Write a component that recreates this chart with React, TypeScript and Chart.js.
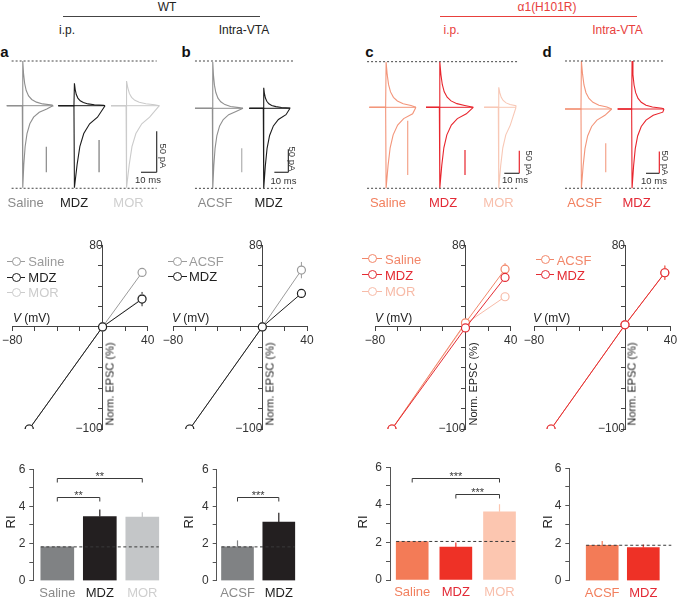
import React, { useEffect, useRef } from 'react';
import { Chart, registerables } from 'chart.js';
Chart.register(...registerables);

const FONT = '"Liberation Sans", Arial, Helvetica, sans-serif';
Chart.defaults.font.family = FONT;

// ================= DATA =================
// EPSC waveform template: time after stimulus (ms), fraction of peak
const shapeT = [0, 0.3, 0.8, 1.5, 2.5, 4, 6, 9, 13, 19, 26];
const shapeF = [0, 1, 0.72, 0.5, 0.34, 0.22, 0.14, 0.08, 0.04, 0.015, 0];
const scaleMs = 10;
const scalePA = 50;

// panel a traces (WT, i.p.)
const aNames = ['Saline', 'MDZ', 'MOR'];
const aStart = [4.3, 37.1, 70.7];
const aStim = [14.2, 47.1, 80.3];
const aEnd = [33.6, 66.9, 101.5];
const aUp = [54.5, 27.3, 30];
const aDown = [-100, -100, -100];
const aUpTau = [1, 1, 1.4];
const aDownTau = [1.2, 2.5, 2.5];
const aRef = [54.5, -100.7];
const aRefX = [7.4, 99.8];
const aBarX = [29.5, 63.1];
const aBarFrom = [-50, -41.8];
const aBarTo = [-81.2, -81.2];
const aScale = [99.8, -81.2];

// panel b traces (WT, intra-VTA)
const bNames = ['ACSF', 'MDZ'];
const bStart = [10.7, 49.5];
const bStim = [23.1, 59.5];
const bEnd = [45, 78.6];
const bUp = [100.7, 44.8];
const bDown = [-174, -174];
const bUpTau = [1, 1];
const bDownTau = [1.3, 1.8];
const bRef = [102.8, -174];
const bRefX = [10.7, 80.7];
const bBarX = [44.1];
const bBarFrom = [-87];
const bBarTo = [-139];
const bScale = [77.4, -139.1];

// panel c traces (a1(H101R), i.p.)
const cNames = ['Saline', 'MDZ', 'MOR'];
const cStart = [6.2, 44, 82.7];
const cStim = [17.1, 52.9, 92.2];
const cEnd = [37.3, 75.5, 104];
const cUp = [100, 100.7, 44.2];
const cDown = [-178.8, -178.8, -178.8];
const cUpTau = [1.3, 1.3, 1.3];
const cDownTau = [2, 2, 2];
const cRef = [100.7, -178.8];
const cRefX = [4.7, 105.3];
const cBarX = [31.8, 70];
const cBarFrom = [-29.6, -94.3];
const cBarTo = [-149.4, -149.4];
const cScale = [106.2, -145.7];

// panel d traces (a1(H101R), intra-VTA)
const dNames = ['ACSF', 'MDZ'];
const dStart = [11.3, 50.9];
const dStim = [23.3, 61.4];
const dEnd = [46.4, 85.7];
const dUp = [110.6, 110.6];
const dDown = [-182.7, -182.7];
const dUpTau = [1.5, 1.2];
const dDownTau = [2, 1.8];
const dRef = [110.6, -182.7];
const dRefX = [11.3, 86.5];
const dBarX = [41.9];
const dBarFrom = [-79];
const dBarTo = [-145.9];
const dScale = [82.2, -148.2];

// I-V curves: holding potentials (mV) and normalized EPSC (%)
const ivVoltage = [-65, 0, 35];
const ivANames = ['Saline', 'MDZ', 'MOR'];
const ivAValues = [[-100, 0, 53.3], [-100, 0, 27.2], [-100, 0, 28]];
const ivAErrors = [[0, 0, 2], [0, 0, 7], [0, 0, 4]];
const ivBNames = ['ACSF', 'MDZ'];
const ivBValues = [[-100, 0, 55.6], [-100, 0, 32.8]];
const ivBErrors = [[0, 0, 8], [0, 0, 3]];
const ivCNames = ['Saline', 'MDZ', 'MOR'];
const ivCValues = [[-100, 4, 56.5], [-100, -1, 48.4], [-100, 3, 29.5]];
const ivCErrors = [[0, 0, 6], [0, 0, 3], [0, 0, 3]];
const ivDNames = ['ACSF', 'MDZ'];
const ivDValues = [[-100, 2, 53], [-100, 2, 53]];
const ivDErrors = [[0, 0, 7], [0, 0, 7]];
const ivXTicks = [-80, 40];
const ivYTicks = [80, -100];

// rectification index bars
const barANames = ['Saline', 'MDZ', 'MOR'];
const barAValues = [1.82, 3.45, 3.42];
const barAErrors = [0.05, 0.38, 0.26];
const barABrackets = [[0, 1, 4.52, '**'], [0, 2, 5.52, '**']];
const barBNames = ['ACSF', 'MDZ'];
const barBValues = [1.82, 3.15];
const barBErrors = [0.35, 0.5];
const barBBrackets = [[0, 1, 4.52, '***']];
const barCNames = ['Saline', 'MDZ', 'MOR'];
const barCValues = [2.05, 1.75, 3.63];
const barCErrors = [0.03, 0.25, 0.4];
const barCBrackets = [[0, 2, 5.44, '***'], [1, 2, 4.56, '***']];
const barDNames = ['ACSF', 'MDZ'];
const barDValues = [1.89, 1.77];
const barDErrors = [0.23, 0.16];
const barDBrackets: any[] = [];

// ================= STYLE =================
const GREY = ['#8f8f8f', '#1c1c1c', '#cbcbcb'];
const REDS = ['#f3957a', '#e8252d', '#f8c8b6'];
const IV_GREY = ['#9b9b9b', '#1f1f1f', '#cccccc'];
const IV_REDS = ['#f2876a', '#e42b33', '#f7bba8'];
const BAR_GREY = ['#808284', '#231f20', '#c4c6c8'];
const BAR_REDS = ['#f37b57', '#ee3126', '#fcc6b0'];
const LBL_GREY = ['#8a8a8a', '#1f1f1f', '#cfcfcf'];
const LBL_REDS = ['#f2805f', '#e32a36', '#f8bfac'];
const HEAD_RED = '#e8403c';
const IV_ORDER = [1, 0, 2]; // dataset index 0 is drawn uppermost: MDZ, then control, then MOR

function sweep(start: number, stim: number, end: number, amp: number, tau: number) {
  const pts = [{ x: start, y: 0 }, { x: stim, y: 0 }];
  for (let i = 1; i < shapeT.length; i++) {
    const x = stim + (i === 1 ? shapeT[1] : shapeT[i] * tau);
    if (x >= end) break;
    pts.push({ x, y: amp * shapeF[i] });
  }
  pts.push({ x: end, y: 0 });
  return pts;
}

const TRACE_PANELS = [
  { names: aNames, start: aStart, stim: aStim, end: aEnd, up: aUp, down: aDown, upTau: aUpTau, downTau: aDownTau, ref: aRef, refX: aRefX, barX: aBarX, barFrom: aBarFrom, barTo: aBarTo, scale: aScale,
    colors: GREY, barColors: ['#8a8a8a', '#7a7a7a'], scaleColor: '#333', box: { left: 0, top: 55, w: 170, h: 140, pxMs: 1.57, pxPA: 0.82, baseY: 105.7 } },
  { names: bNames, start: bStart, stim: bStim, end: bEnd, up: bUp, down: bDown, upTau: bUpTau, downTau: bDownTau, ref: bRef, refX: bRefX, barX: bBarX, barFrom: bBarFrom, barTo: bBarTo, scale: bScale,
    colors: GREY, barColors: ['#b0b0b0'], scaleColor: '#333', box: { left: 180, top: 55, w: 130, h: 140, pxMs: 1.4, pxPA: 0.46, baseY: 108.3 } },
  { names: cNames, start: cStart, stim: cStim, end: cEnd, up: cUp, down: cDown, upTau: cUpTau, downTau: cDownTau, ref: cRef, refX: cRefX, barX: cBarX, barFrom: cBarFrom, barTo: cBarTo, scale: cScale,
    colors: REDS, barColors: ['#f4a48b', '#e8252d'], scaleColor: '#e8252d', box: { left: 360, top: 55, w: 170, h: 140, pxMs: 1.5, pxPA: 0.453, baseY: 107.3 } },
  { names: dNames, start: dStart, stim: dStim, end: dEnd, up: dUp, down: dDown, upTau: dUpTau, downTau: dDownTau, ref: dRef, refX: dRefX, barX: dBarX, barFrom: dBarFrom, barTo: dBarTo, scale: dScale,
    colors: REDS, barColors: ['#f4a48b'], scaleColor: '#e8252d', box: { left: 550, top: 55, w: 135, h: 140, pxMs: 1.33, pxPA: 0.434, baseY: 109 } },
];

const IV_PANELS = [
  { names: ivANames, values: ivAValues, errors: ivAErrors, colors: IV_GREY, area: { L: 12.3, R: 147.7, T: 245, B: 429 } },
  { names: ivBNames, values: ivBValues, errors: ivBErrors, colors: IV_GREY, area: { L: 173, R: 307, T: 245, B: 429 } },
  { names: ivCNames, values: ivCValues, errors: ivCErrors, colors: IV_REDS, area: { L: 375, R: 510.7, T: 245, B: 429 } },
  { names: ivDNames, values: ivDValues, errors: ivDErrors, colors: IV_REDS, area: { L: 534, R: 670.5, T: 245, B: 429 } },
];

const BAR_PANELS = [
  { names: barANames, values: barAValues, errors: barAErrors, brackets: barABrackets, colors: BAR_GREY, labelColors: LBL_GREY, extend: 0,
    lay: { axisX: 33.3, y6: 468.3, y0: 580.7, c0: 57.3, sp: 42.5, right: 178, bw: 33 } },
  { names: barBNames, values: barBValues, errors: barBErrors, brackets: barBBrackets, colors: BAR_GREY, labelColors: LBL_GREY, extend: 0,
    lay: { axisX: 216.7, y6: 468.3, y0: 580.7, c0: 237.5, sp: 41.3, right: 312, bw: 32 } },
  { names: barCNames, values: barCValues, errors: barCErrors, brackets: barCBrackets, colors: BAR_REDS, labelColors: LBL_REDS, extend: 0,
    lay: { axisX: 390, y6: 466, y0: 580, c0: 412.2, sp: 43.65, right: 530, bw: 32 } },
  { names: barDNames, values: barDValues, errors: barDErrors, brackets: barDBrackets, colors: BAR_REDS, labelColors: LBL_REDS, extend: 12,
    lay: { axisX: 569.3, y6: 467.3, y0: 580.7, c0: 602.2, sp: 41.1, right: 684, bw: 32 } },
];

// integer canvas box around a (possibly fractional) plot rectangle, with the remainder as padding
function snapBox(L: number, R: number, T: number, B: number, mL: number, mR: number, mT: number, mB: number) {
  const left = Math.floor(L - mL);
  const top = Math.floor(T - mT);
  const right = Math.ceil(R + mR);
  const bottom = Math.ceil(B + mB);
  return {
    left, top, w: right - left, h: bottom - top,
    pad: { left: L - left, right: right - R, top: T - top, bottom: bottom - B },
  };
}

// ================= CHARTS =================
function TraceChart({ p }: any) {
  const ref = useRef<HTMLCanvasElement>(null);
  const b = p.box;
  useEffect(() => {
    const datasets: any[] = [];
    p.ref.forEach((lv: number) => datasets.push({ data: [{ x: p.refX[0], y: lv }, { x: p.refX[1], y: lv }], borderColor: '#444', borderWidth: 1, borderDash: [2, 2] }));
    p.names.forEach((_n: string, i: number) => {
      const col = p.colors[i];
      datasets.push({ data: [{ x: p.start[i], y: 0 }, { x: p.end[i], y: 0 }], borderColor: col, borderWidth: 1 });
      datasets.push({ data: sweep(p.start[i], p.stim[i], p.end[i], p.up[i], p.upTau[i]), borderColor: col, borderWidth: 1.1 });
      datasets.push({ data: sweep(p.start[i], p.stim[i], p.end[i], p.down[i], p.downTau[i]), borderColor: col, borderWidth: 1.1 });
    });
    p.barX.forEach((x: number, i: number) => datasets.push({ data: [{ x, y: p.barFrom[i] }, { x, y: p.barTo[i] }], borderColor: p.barColors[i], borderWidth: 1.2 }));
    datasets.push({ data: [{ x: p.scale[0] - scaleMs, y: p.scale[1] }, { x: p.scale[0], y: p.scale[1] }], borderColor: '#333', borderWidth: 1.2 });
    datasets.push({ data: [{ x: p.scale[0], y: p.scale[1] }, { x: p.scale[0], y: p.scale[1] + scalePA }], borderColor: p.scaleColor, borderWidth: 1.2 });
    const chart = new Chart(ref.current!, {
      type: 'line',
      data: { datasets },
      options: {
        animation: false, responsive: false, maintainAspectRatio: false,
        layout: { padding: 0 },
        plugins: { legend: { display: false }, tooltip: { enabled: false } },
        elements: { point: { radius: 0 }, line: { tension: 0 } },
        scales: {
          x: { type: 'linear', display: false, min: 0, max: b.w / b.pxMs },
          y: { type: 'linear', display: false, min: -(b.top + b.h - b.baseY) / b.pxPA, max: (b.baseY - b.top) / b.pxPA },
        },
      } as any,
    });
    return () => chart.destroy();
  }, []);
  return <canvas ref={ref} width={b.w} height={b.h} style={{ position: 'absolute', left: b.left, top: b.top, width: b.w, height: b.h }} />;
}

const ivErrPlugin = {
  id: 'ivErr',
  beforeDatasetsDraw(chart: any) {
    const { ctx, scales: { x, y } } = chart;
    chart.data.datasets.forEach((ds: any) => {
      ds.errors.forEach((e: number, j: number) => {
        if (!e) return;
        const px = x.getPixelForValue(ds.data[j].x);
        ctx.save();
        ctx.strokeStyle = ds.borderColor;
        ctx.lineWidth = 1;
        ctx.beginPath();
        ctx.moveTo(px, y.getPixelForValue(ds.data[j].y + e));
        ctx.lineTo(px, y.getPixelForValue(ds.data[j].y - e));
        ctx.stroke();
        ctx.restore();
      });
    });
  },
};

function IVChart({ p }: any) {
  const ref = useRef<HTMLCanvasElement>(null);
  const a = p.area;
  const box = snapBox(a.L, a.R, a.T, a.B, 15, 15, 10, 15);
  useEffect(() => {
    const idx = IV_ORDER.filter((k) => k < p.names.length);
    const datasets = idx.map((i: number) => ({
      label: p.names[i],
      data: ivVoltage.map((v, j) => ({ x: v, y: p.values[i][j] })),
      errors: p.errors[i],
      borderColor: p.colors[i],
      borderWidth: 1,
      pointRadius: 4,
      pointBorderWidth: 1.2,
      pointBackgroundColor: '#fff',
      pointBorderColor: p.colors[i],
    }));
    const axisGrid = { drawOnChartArea: false, drawTicks: true, tickLength: 4, color: '#444', lineWidth: 1 };
    const axisBorder = { display: true, color: '#444', width: 1 };
    const chart = new Chart(ref.current!, {
      type: 'line',
      data: { datasets },
      options: {
        animation: false, responsive: false, maintainAspectRatio: false,
        layout: { padding: box.pad },
        plugins: { legend: { display: false }, tooltip: { enabled: false } },
        elements: { line: { tension: 0 } },
        scales: {
          x: {
            type: 'linear', min: -80, max: 40, position: { y: 0 },
            ticks: { stepSize: 20, autoSkip: false, maxRotation: 0, padding: 3, color: '#333', font: { size: 12 },
              callback: (v: any) => (ivXTicks.includes(Math.round(v)) ? String(Math.round(v)).replace('-', '\u2212') : '') },
            grid: axisGrid, border: axisBorder,
          },
          y: {
            type: 'linear', min: -100, max: 80, position: { x: 0 },
            ticks: { stepSize: 20, autoSkip: false, padding: 3, color: '#333', font: { size: 12 },
              callback: (v: any) => (ivYTicks.includes(Math.round(v)) ? String(Math.round(v)).replace('-', '\u2212') : '') },
            grid: axisGrid, border: axisBorder,
          },
        },
      } as any,
      plugins: [ivErrPlugin],
    });
    return () => chart.destroy();
  }, []);
  return <canvas ref={ref} width={box.w} height={box.h} style={{ position: 'absolute', left: box.left, top: box.top, width: box.w, height: box.h }} />;
}

function BarChart({ p }: any) {
  const ref = useRef<HTMLCanvasElement>(null);
  const L = p.lay;
  const axisW = 30;
  // plot rectangle: from the y axis line to L.right, 6 -> 0
  const box = snapBox(L.axisX, L.right, L.y6, L.y0, axisW, 0, 10, 24);
  const xMin = -(L.c0 - L.axisX) / L.sp;
  const xMax = xMin + (L.right - L.axisX) / L.sp;
  useEffect(() => {
    const datasets = p.names.map((n: string, i: number) => ({
      label: n,
      data: [{ x: i, y: p.values[i] }],
      backgroundColor: p.colors[i],
      borderColor: p.colors[i],
      borderWidth: 0,
      barThickness: L.bw,
      grouped: false,
    }));
    const extras = {
      id: 'rix',
      afterDatasetsDraw(chart: any) {
        const { ctx, chartArea, scales: { y } } = chart;
        const bars = p.names.map((_: any, i: number) => chart.getDatasetMeta(i).data[0]);
        ctx.save();
        // error bars
        bars.forEach((bar: any, i: number) => {
          ctx.strokeStyle = p.colors[i];
          ctx.lineWidth = 1.2;
          ctx.beginPath();
          ctx.moveTo(bar.x, y.getPixelForValue(p.values[i]));
          ctx.lineTo(bar.x, y.getPixelForValue(p.values[i] + p.errors[i]));
          ctx.stroke();
        });
        // dashed reference at control level
        const yy = y.getPixelForValue(p.values[0]);
        const last = bars[bars.length - 1];
        ctx.strokeStyle = '#3a3a3a';
        ctx.lineWidth = 1;
        ctx.setLineDash([3, 2.5]);
        ctx.beginPath();
        ctx.moveTo(bars[0].x - L.bw / 2, yy);
        ctx.lineTo(last.x + L.bw / 2 + p.extend, yy);
        ctx.stroke();
        ctx.setLineDash([]);
        // significance brackets
        ctx.strokeStyle = '#3a3a3a';
        ctx.fillStyle = '#3a3a3a';
        ctx.font = `11px ${FONT}`;
        ctx.textAlign = 'center';
        ctx.textBaseline = 'alphabetic';
        p.brackets.forEach((bk: any) => {
          const x1 = bars[bk[0]].x;
          const x2 = bars[bk[1]].x;
          const by = Math.round(y.getPixelForValue(bk[2])) + 0.5;
          ctx.beginPath();
          ctx.moveTo(x1, by + 4);
          ctx.lineTo(x1, by);
          ctx.lineTo(x2, by);
          ctx.lineTo(x2, by + 4);
          ctx.stroke();
          ctx.fillText(bk[3], (x1 + x2) / 2, by + 1);
        });
        // category labels
        ctx.font = `13px ${FONT}`;
        ctx.textBaseline = 'middle';
        bars.forEach((bar: any, i: number) => {
          ctx.fillStyle = p.labelColors[i];
          ctx.fillText(p.names[i], bar.x, chartArea.bottom + 12.5);
        });
        ctx.restore();
      },
    };
    const chart = new Chart(ref.current!, {
      type: 'bar',
      data: { datasets },
      options: {
        animation: false, responsive: false, maintainAspectRatio: false,
        layout: { padding: { left: box.pad.left - axisW, right: box.pad.right, top: box.pad.top, bottom: box.pad.bottom } },
        plugins: { legend: { display: false }, tooltip: { enabled: false } },
        scales: {
          x: { type: 'linear', display: false, min: xMin, max: xMax, offset: false },
          y: {
            min: 0, max: 6,
            ticks: { stepSize: 1, padding: 4, color: '#333', font: { size: 12 }, callback: (v: any) => (v % 2 === 0 ? String(v) : '') },
            grid: { drawOnChartArea: false, tickLength: 4, color: '#555' },
            border: { color: '#555', width: 1 },
            afterFit: (s: any) => { s.width = axisW; },
          },
        },
      } as any,
      plugins: [extras],
    });
    return () => chart.destroy();
  }, []);
  return <canvas ref={ref} width={box.w} height={box.h} style={{ position: 'absolute', left: box.left, top: box.top, width: box.w, height: box.h }} />;
}

// ================= TEXT HELPERS =================
function Txt({ x, y, children, color = '#222', size = 13, weight = 'normal', rotate = 0, anchor = 'center', italic = false }: any) {
  return (
    <div style={{
      position: 'absolute', left: x, top: y, fontSize: size, color, fontWeight: weight, fontStyle: italic ? 'italic' : 'normal',
      whiteSpace: 'nowrap', lineHeight: 1, fontFamily: FONT,
      transform: `translate(${anchor === 'left' ? '0' : '-50%'}, -50%) rotate(${rotate}deg)`,
    }}>{children}</div>
  );
}

function Legend({ x0, x1, tx, ys, names, colors }: any) {
  return (
    <>
      {names.map((n: string, i: number) => (
        <React.Fragment key={n + i}>
          <div style={{ position: 'absolute', left: x0, top: ys[i], width: x1 - x0, height: 0, borderTop: `1px solid ${colors[i]}` }} />
          <div style={{ position: 'absolute', left: (x0 + x1) / 2 - 4.5, top: ys[i] - 4, width: 7, height: 7, borderRadius: '50%', border: `1.2px solid ${colors[i]}`, background: '#fff' }} />
          <Txt x={tx} y={ys[i] + 0.5} anchor="left" color={colors[i]} size={13}>{n}</Txt>
        </React.Fragment>
      ))}
    </>
  );
}

function VLabel({ x }: any) {
  return <Txt x={x} y={318} anchor="left" size={12} color="#222"><i>V</i> (mV)</Txt>;
}

function NormLabel({ x }: any) {
  return <Txt x={x} y={383.5} size={11} rotate={-90} color="#222">Norm. EPSC (%)</Txt>;
}

export default function App() {
  useEffect(() => {
    document.body.style.margin = '0';
  }, []);
  return (
    <div style={{ position: 'relative', width: 685, height: 602, overflow: 'hidden', background: '#fff', fontFamily: FONT }}>
      {/* headers */}
      <Txt x={167} y={7} size={12}>WT</Txt>
      <div style={{ position: 'absolute', left: 63, top: 16, width: 197, height: 0, borderTop: '1px solid #444' }} />
      <Txt x={67} y={30} size={12}>i.p.</Txt>
      <Txt x={244} y={30} size={12}>Intra-VTA</Txt>
      <Txt x={547} y={7} size={12} color={HEAD_RED}>α1(H101R)</Txt>
      <div style={{ position: 'absolute', left: 440, top: 16, width: 197, height: 0, borderTop: `1px solid ${HEAD_RED}` }} />
      <Txt x={451.5} y={30} size={12} color={HEAD_RED}>i.p.</Txt>
      <Txt x={617.5} y={30} size={12} color={HEAD_RED}>Intra-VTA</Txt>

      <Txt x={4.5} y={51} size={15} weight="bold" color="#111">a</Txt>
      <Txt x={186} y={51} size={15} weight="bold" color="#111">b</Txt>
      <Txt x={369.5} y={51} size={15} weight="bold" color="#111">c</Txt>
      <Txt x={547} y={51} size={15} weight="bold" color="#111">d</Txt>

      {TRACE_PANELS.map((p, i) => <TraceChart key={'t' + i} p={p} />)}

      {/* scale bar labels */}
      <Txt x={162.5} y={155.8} size={9.5} rotate={90} color="#333">50 pA</Txt>
      <Txt x={148} y={180} size={9.5} color="#333">10 ms</Txt>
      <Txt x={292} y={159} size={9.5} rotate={90} color="#333">50 pA</Txt>
      <Txt x={283.5} y={180.5} size={9.5} color="#333">10 ms</Txt>
      <Txt x={528.7} y={162.5} size={9.5} rotate={90} color="#333">50 pA</Txt>
      <Txt x={515} y={180} size={9.5} color="#333">10 ms</Txt>
      <Txt x={665} y={162.5} size={9.5} rotate={90} color="#333">50 pA</Txt>
      <Txt x={654} y={180.5} size={9.5} color="#333">10 ms</Txt>

      {/* trace condition labels */}
      <Txt x={25.7} y={202} color={LBL_GREY[0]}>{aNames[0]}</Txt>
      <Txt x={74} y={202} color={LBL_GREY[1]}>{aNames[1]}</Txt>
      <Txt x={128.5} y={202} color={LBL_GREY[2]}>{aNames[2]}</Txt>
      <Txt x={215} y={202} color={LBL_GREY[0]}>{bNames[0]}</Txt>
      <Txt x={268.5} y={202} color={LBL_GREY[1]}>{bNames[1]}</Txt>
      <Txt x={388} y={202} color={LBL_REDS[0]}>{cNames[0]}</Txt>
      <Txt x={443} y={202} color={LBL_REDS[1]}>{cNames[1]}</Txt>
      <Txt x={498.5} y={202} color={LBL_REDS[2]}>{cNames[2]}</Txt>
      <Txt x={584.5} y={202} color={LBL_REDS[0]}>{dNames[0]}</Txt>
      <Txt x={636.5} y={202} color={LBL_REDS[1]}>{dNames[1]}</Txt>

      {/* I-V panels */}
      {IV_PANELS.map((p, i) => <IVChart key={'iv' + i} p={p} />)}
      <Legend x0={7} x1={25} tx={28.3} ys={[260.7, 276.7, 291.7]} names={ivANames} colors={IV_GREY} />
      <Legend x0={168} x1={187} tx={189} ys={[260.7, 275.5]} names={ivBNames} colors={IV_GREY} />
      <Legend x0={362} x1={382} tx={385} ys={[258.3, 274.3, 290.7]} names={ivCNames} colors={IV_REDS} />
      <Legend x0={536} x1={554} tx={556.7} ys={[259, 274.3]} names={ivDNames} colors={IV_REDS} />
      <VLabel x={13} />
      <VLabel x={172} />
      <VLabel x={375} />
      <VLabel x={533} />
      <NormLabel x={110} />
      <NormLabel x={269.5} />
      <NormLabel x={472.7} />
      <NormLabel x={632} />

      {/* RI bar panels */}
      {BAR_PANELS.map((p, i) => <BarChart key={'b' + i} p={p} />)}
      <Txt x={10} y={522} size={13} rotate={-90} color="#222">RI</Txt>
      <Txt x={188} y={522} size={13} rotate={-90} color="#222">RI</Txt>
      <Txt x={361.7} y={521.7} size={13} rotate={-90} color="#222">RI</Txt>
      <Txt x={546.7} y={521.7} size={13} rotate={-90} color="#222">RI</Txt>
    </div>
  );
}
